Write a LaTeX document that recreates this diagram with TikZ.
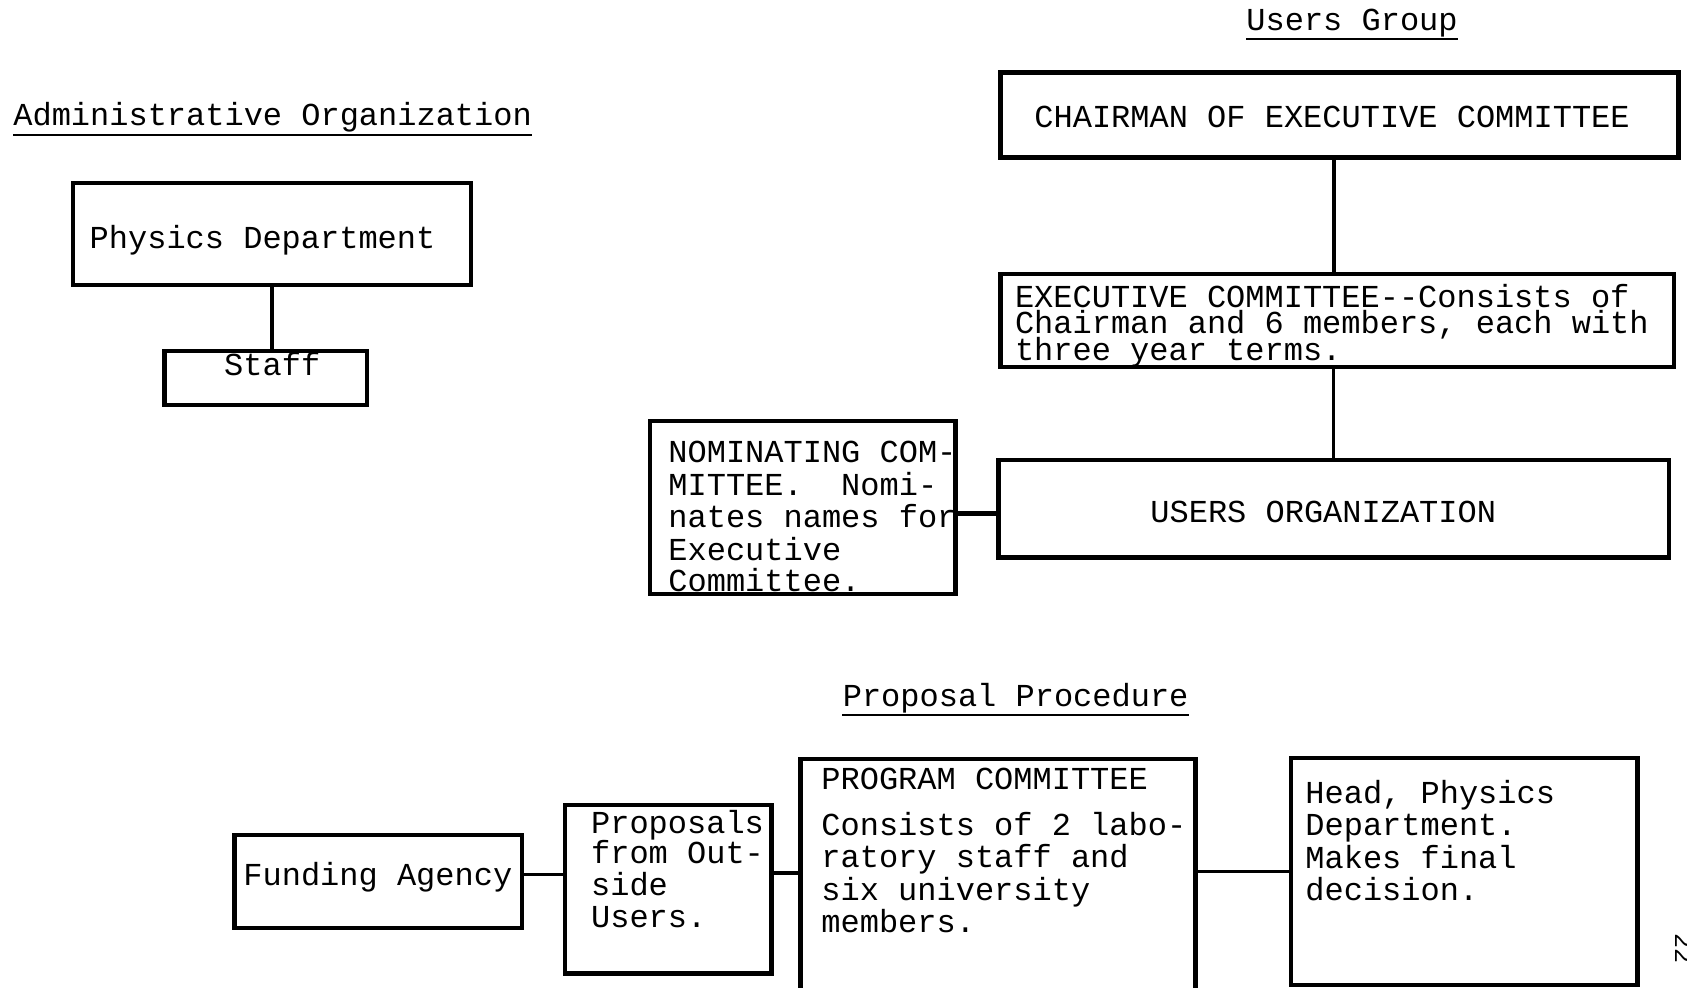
\documentclass[tikz,border=0pt]{standalone}
\usepackage{fontspec}
\setmainfont[Ligatures=NoCommon]{Liberation Mono}
\usetikzlibrary{fit}
\begin{document}
\begin{tikzpicture}[x=0.5pt,y=-0.5pt,
  box/.style={draw, line width=2.2pt, inner sep=0pt},
  txt/.style={inner sep=0pt, anchor=base west, font=\fontsize{16}{16}\selectfont},
  link/.style={line width=1.8pt},
  thicklink/.style={line width=2.6pt},
  uline/.style={line width=1pt}]
\useasboundingbox (0,0) rectangle (1687,988);

% ---- titles
\node[txt] (tug) at (1246,31) {Users Group};
\draw[uline] ([yshift=-4pt]tug.base west) -- ([yshift=-4pt]tug.base east);
\node[txt] (tao) at (13,126) {Administrative Organization};
\draw[uline] ([yshift=-4.75pt]tao.base west) -- ([yshift=-4.75pt]tao.base east);
\node[txt] (tpp) at (842.4,706) {Proposal Procedure};
\draw[uline] ([yshift=-4.5pt]tpp.base west) -- ([yshift=-4.5pt]tpp.base east);

% ---- administrative organization
\node[box, fit={(73,183) (471,285)}] (phys) {};
\node[txt] (physT) at (89.3,249) {Physics Department};
\node[box, fit={(164.6,351) (367,405)}] (staff) {};
\node[txt] (staffT) at (223.8,376) {Staff};
\draw[link] (phys.south) -- (phys.south |- staff.north);

% ---- users group
\node[box, fit={(1000.6,72.5) (1678.4,157.5)}] (chair) {};
\node[txt] (chairT) at (1034,128) {CHAIRMAN OF EXECUTIVE COMMITTEE};
\node[box, fit={(1000.6,274) (1674,367)}] (exec) {};
\node[txt] (execA) at (1014.6,307.5) {EXECUTIVE COMMITTEE{-}{-}Consists of};
\node[txt] (execB) at (1014.6,334) {Chairman and 6 members, each with};
\node[txt] (execC) at (1014.6,361) {three year terms.};
\node[box, fit={(998.4,460) (1668.7,557.6)}] (users) {};
\node[txt] (usersT) at (1150,523) {USERS ORGANIZATION};
\node[box, fit={(650,421) (955.4,594)}] (nom) {};
\node[txt] (nomA) at (668,463) {NOMINATING COM-};
\node[txt] (nomB) at (668,496) {MITTEE.\ \ Nomi-};
\node[txt] (nomC) at (668,528) {nates names for};
\node[txt] (nomD) at (668,561) {Executive};
\node[txt] (nomE) at (668,592) {Committee.};
\draw[link] ([xshift=-2.75pt]chair.south) -- ([xshift=-2.75pt]chair.south |- exec.north);
\draw[link] (users.north) -- (users.north |- exec.south);
\draw[thicklink] ([yshift=-3pt]nom.east) -- ([yshift=-3pt]nom.east -| users.west);

% ---- proposal procedure
\node[box, fit={(234.5,835) (521.8,928)}] (fund) {};
\node[txt] (fundT) at (243,885) {Funding Agency};
\node[box, fit={(565,805) (771.4,973.5)}] (prop) {};
\node[txt] (propA) at (590.7,833) {Proposals};
\node[txt] (propB) at (590.7,863) {from Out-};
\node[txt] (propC) at (590.7,895) {side};
\node[txt] (propD) at (590.7,927.5) {Users.};
\node[box, fit={(800.5,759) (1195.3,993)}] (prog) {};
\node[txt] (progA) at (821,789.5) {PROGRAM COMMITTEE};
\node[txt] (progB) at (821,835.5) {Consists of 2 labo-};
\node[txt] (progC) at (821,867.7) {ratory staff and};
\node[txt] (progD) at (821,900) {six university};
\node[txt] (progE) at (821,932.6) {members.};
\node[box, fit={(1291,758) (1637.5,985)}] (head) {};
\node[txt] (headA) at (1305,803) {Head, Physics};
\node[txt] (headB) at (1305,835) {Department.};
\node[txt] (headC) at (1305,868) {Makes final};
\node[txt] (headD) at (1305,900) {decision.};
\draw[link] ([yshift=3.5pt]fund.east) -- ([yshift=3.5pt]fund.east -| prop.west);
\draw[link] ([yshift=8pt]prop.east) -- ([yshift=8pt]prop.east -| prog.west);
\draw[link] (head.west) -- (head.west -| prog.east);

% ---- page number
\node[txt, font=\fontsize{12.5}{12.5}\selectfont, rotate=-90] (pg) at (1675,933) {22};
\end{tikzpicture}
\end{document}
